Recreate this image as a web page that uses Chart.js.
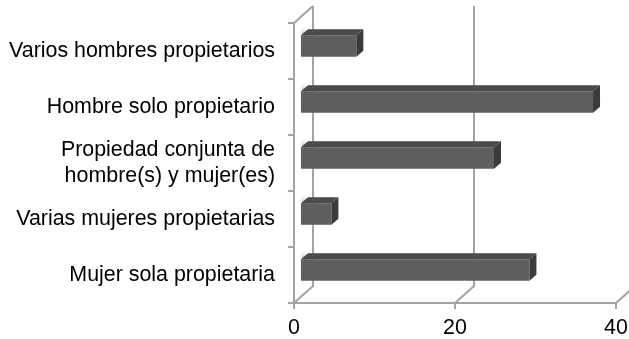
<!DOCTYPE html>
<html>
<head>
<meta charset="utf-8">
<script src="https://cdn.jsdelivr.net/npm/chart.js@4/dist/chart.umd.min.js"></script>
<style>
  html, body { margin: 0; padding: 0; background: #fff; }
  canvas { display: block; }
</style>
</head>
<body>
<canvas id="c" width="629" height="339"></canvas>
<script>
// Ownership categories, top to bottom
const categories = [
  'Varios hombres propietarios',
  'Hombre solo propietario',
  ['Propiedad conjunta de', 'hombre(s) y mujer(es)'],
  'Varias mujeres propietarias',
  'Mujer sola propietaria'
];
// Share of each ownership type
const owners = [7.0, 36.4, 24.1, 3.9, 28.5];
// Value axis ticks
const xTicks = [0, 20, 40];

// Perspective of the box: back wall sits up and to the right of the front edges
const WALL = { dx: 19, dy: 17 };
// Bars sit a little inside the box and have their own depth
const BAR = { dx: 7, dy: 6, shiftX: 6, shiftY: 5 };
const LINE = '#a3a3a3';
const FRONT = '#5f5f5f', TOP = '#4a4a4a', SIDE = '#3b3b3b';

const box3d = {
  id: 'box3d',
  beforeDatasetsDraw(chart) {
    const { ctx, chartArea: a, scales: { x } } = chart;
    ctx.save();
    ctx.strokeStyle = LINE;
    ctx.lineWidth = 2;
    ctx.lineJoin = 'miter';
    // top edge of the side wall
    ctx.beginPath();
    ctx.moveTo(a.left, a.top);
    ctx.lineTo(a.left + WALL.dx, a.top - WALL.dy);
    ctx.stroke();
    // floor diagonals and back-wall gridlines
    xTicks.forEach(v => {
      const px = x.getPixelForValue(v);
      ctx.beginPath();
      ctx.moveTo(px, a.bottom);
      ctx.lineTo(px + WALL.dx, a.bottom - WALL.dy);
      ctx.lineTo(px + WALL.dx, a.top - WALL.dy);
      ctx.stroke();
    });
    ctx.restore();

    // bars are drawn inside the box
    ctx.save();
    ctx.translate(BAR.shiftX, -BAR.shiftY);

    // soft shadows cast on the side wall
    const meta = chart.getDatasetMeta(0);
    ctx.save();
    ctx.filter = 'blur(1.5px)';
    ctx.fillStyle = 'rgba(110,110,110,0.45)';
    meta.data.forEach(el => {
      const { base, y, height } = el.getProps(['base', 'y', 'height'], true);
      ctx.fillRect(base + 1, y - height / 2 - BAR.dy + 2, 4, height);
    });
    ctx.restore();
  },
  afterDatasetsDraw(chart) {
    const { ctx } = chart;
    const meta = chart.getDatasetMeta(0);
    meta.data.forEach(el => {
      const { x, base, y, height } = el.getProps(['x', 'base', 'y', 'height'], true);
      const top = y - height / 2, bottom = y + height / 2;
      // top face
      ctx.fillStyle = TOP;
      ctx.beginPath();
      ctx.moveTo(base, top);
      ctx.lineTo(x, top);
      ctx.lineTo(x + BAR.dx, top - BAR.dy);
      ctx.lineTo(base + BAR.dx, top - BAR.dy);
      ctx.closePath();
      ctx.fill();
      // end face
      ctx.fillStyle = SIDE;
      ctx.beginPath();
      ctx.moveTo(x, top);
      ctx.lineTo(x + BAR.dx, top - BAR.dy);
      ctx.lineTo(x + BAR.dx, bottom - BAR.dy);
      ctx.lineTo(x, bottom);
      ctx.closePath();
      ctx.fill();
    });
    ctx.restore();
  }
};

const font = { family: "'Liberation Sans', Arial, sans-serif", size: 21.4 };

new Chart(document.getElementById('c'), {
  type: 'bar',
  data: {
    labels: categories,
    datasets: [{
      data: owners,
      backgroundColor: FRONT,
      borderWidth: 0,
      categoryPercentage: 1,
      barPercentage: 0.385,
      clip: false
    }]
  },
  options: {
    indexAxis: 'y',
    responsive: false,
    animation: false,
    devicePixelRatio: 1,
    layout: { padding: { top: 23, right: 13, left: 0, bottom: 0 } },
    plugins: { legend: { display: false }, tooltip: { enabled: false } },
    scales: {
      x: {
        type: 'linear',
        min: 0,
        max: 40,
        afterBuildTicks: s => { s.ticks = xTicks.map(v => ({ value: v })); },
        afterFit: s => { s.height = 36; s.paddingLeft = 0; s.paddingRight = 0; },
        ticks: { font, color: '#000', padding: 6, maxRotation: 0 },
        grid: { drawOnChartArea: false, tickLength: 6, color: LINE, lineWidth: 2 },
        border: { color: LINE, width: 2 }
      },
      y: {
        afterFit: s => { s.width = 294; s.paddingTop = 0; s.paddingBottom = 0; },
        ticks: { font, color: '#000', padding: 13 },
        grid: { drawOnChartArea: false, tickLength: 6, color: LINE, lineWidth: 2 },
        border: { color: LINE, width: 2 }
      }
    }
  },
  plugins: [box3d]
});
</script>
</body>
</html>
